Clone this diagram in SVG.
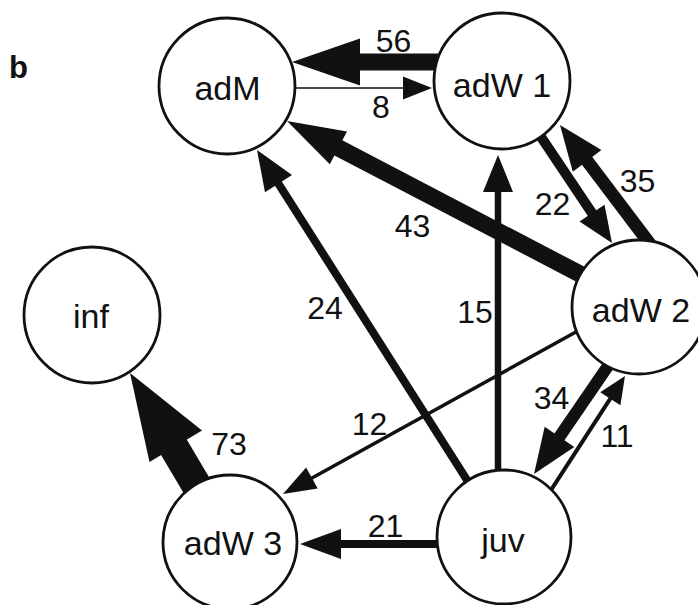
<svg xmlns="http://www.w3.org/2000/svg" width="698" height="605" viewBox="0 0 698 605">
<style>
  .bg { fill: #ffffff; }
  .node circle { fill: #ffffff; stroke: #111111; stroke-width: 2.8; }
  .node text { font-family: "Liberation Sans", Arial, sans-serif; font-size: 34px; fill: #111111; text-anchor: middle; }
  .edge line { stroke: #111111; stroke-linecap: butt; }
  .edge polygon { fill: #111111; stroke: none; }
  .lbl { font-family: "Liberation Sans", Arial, sans-serif; font-size: 32px; fill: #111111; text-anchor: middle; }
  .panel { font-family: "Liberation Sans", Arial, sans-serif; font-size: 31px; font-weight: bold; fill: #111111; }
</style>
<rect class="bg" x="0" y="0" width="698" height="605"/>
<text class="panel" x="9" y="78">b</text>

<g id="connectors">
  <g class="edge" id="e-adW1-adM">
    <line x1="440" y1="62" x2="355" y2="62" stroke-width="17"/>
    <polygon points="292,62 360,38.5 360,85.5"/>
    <text class="lbl" x="393.5" y="52">56</text>
  </g>
  <g class="edge" id="e-adM-adW1">
    <line x1="296" y1="88" x2="406" y2="88" stroke-width="1.6"/>
    <polygon points="432,88 403,76.5 403,99.5"/>
    <text class="lbl" x="381" y="118">8</text>
  </g>
  <g class="edge" id="e-adW2-adM">
    <line x1="333.1" y1="145.1" x2="588.4" y2="278.4" stroke-width="17"/>
    <polygon points="287,121 347,131.4 329.8,164.2"/>
    <text class="lbl" x="412.5" y="237">43</text>
  </g>
  <g class="edge" id="e-juv-adM">
    <line x1="275.8" y1="179.5" x2="482.5" y2="504.4" stroke-width="8"/>
    <polygon points="257,150 265,192.3 292,175.1"/>
    <text class="lbl" x="325" y="319">24</text>
  </g>
  <g class="edge" id="e-juv-adW1">
    <line x1="498" y1="185" x2="498" y2="500" stroke-width="6.5"/>
    <polygon points="498,155 483,192 513,192"/>
    <text class="lbl" x="475" y="323">15</text>
  </g>
  <g class="edge" id="e-adW1-adW2">
    <line x1="523" y1="110" x2="594.2" y2="216.4" stroke-width="10"/>
    <polygon points="612,243 604.5,204.8 579.5,221.4"/>
    <text class="lbl" x="552.5" y="215">22</text>
  </g>
  <g class="edge" id="e-adW2-adW1">
    <line x1="584.1" y1="156.9" x2="668.5" y2="268.5" stroke-width="13"/>
    <polygon points="560,125 601.4,150 572.8,171.8"/>
    <text class="lbl" x="637.5" y="192">35</text>
  </g>
  <g class="edge" id="e-adW2-adW3">
    <line x1="309.3" y1="479.5" x2="598" y2="319.8" stroke-width="3.5"/>
    <polygon points="283,494 317.7,488.5 306.1,467.5"/>
    <text class="lbl" x="369.5" y="435">12</text>
  </g>
  <g class="edge" id="e-juv-adW3">
    <line x1="336" y1="544" x2="470" y2="544" stroke-width="8"/>
    <polygon points="300,544 341,529 341,559"/>
    <text class="lbl" x="385.5" y="537">21</text>
  </g>
  <g class="edge" id="e-adW2-juv">
    <line x1="556.6" y1="441" x2="630" y2="333.8" stroke-width="12"/>
    <polygon points="534,474 574.3,447.1 544.7,426.7"/>
    <text class="lbl" x="551.5" y="409">34</text>
  </g>
  <g class="edge" id="e-juv-adW2">
    <line x1="532.5" y1="518.6" x2="611.9" y2="396.1" stroke-width="4"/>
    <polygon points="625,376 620.4,405.2 600.2,392.2"/>
    <text class="lbl" x="617" y="447">11</text>
  </g>
  <g class="edge" id="e-adW3-inf">
    <line x1="170.7" y1="441.8" x2="220" y2="525" stroke-width="30"/>
    <polygon points="130,373 202,430.5 149.5,462"/>
    <text class="lbl" x="229" y="455">73</text>
  </g>
</g>

<g id="nodes">
  <g class="node" id="adM">
    <circle cx="227" cy="86" r="68"/>
    <text x="227.5" y="100">adM</text>
  </g>
  <g class="node" id="adW1">
    <circle cx="502" cy="81" r="68"/>
    <text x="502" y="97">adW 1</text>
  </g>
  <g class="node" id="inf">
    <circle cx="92" cy="315" r="68"/>
    <text x="91" y="328">inf</text>
  </g>
  <g class="node" id="adW2">
    <circle cx="639" cy="307" r="67"/>
    <text x="641" y="322">adW 2</text>
  </g>
  <g class="node" id="adW3">
    <circle cx="230" cy="542" r="67"/>
    <text x="233" y="555">adW 3</text>
  </g>
  <g class="node" id="juv">
    <circle cx="504" cy="537" r="67"/>
    <text x="503" y="552">juv</text>
  </g>
</g>
</svg>
